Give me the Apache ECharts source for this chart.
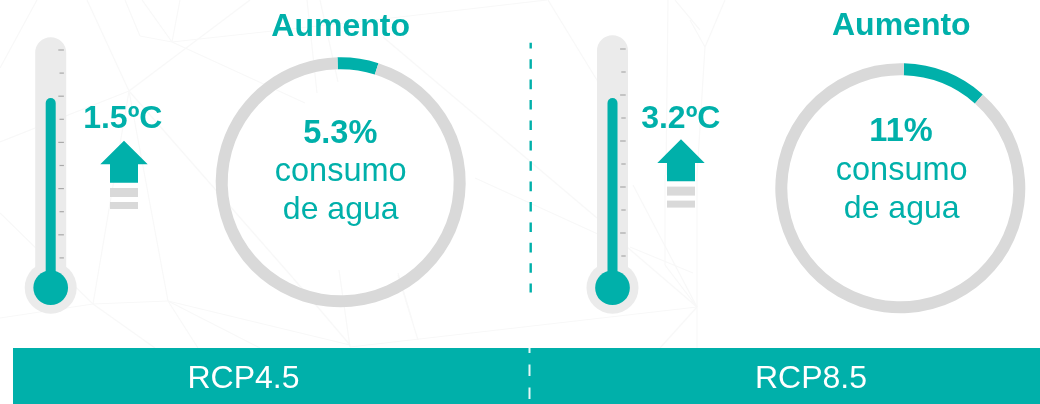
<!DOCTYPE html>
<html lang="es">
<head>
<meta charset="utf-8">
<title>Aumento del consumo de agua por escenario RCP</title>
<style>
  html, body { margin: 0; padding: 0; background: #fff; }
  #chart { width: 1040px; height: 404px; }
</style>
<script src="https://cdn.jsdelivr.net/npm/echarts@6/dist/echarts.min.js"></script>
</head>
<body>
<div id="chart"></div>
<script>
// Scenario data
const scenarios = ['RCP4.5', 'RCP8.5'];
const warming = ['1.5ºC', '3.2ºC'];
const waterUse = [5.3, 11];
const waterUseLabels = ['5.3%', '11%'];

// Thermometer icons, on a scale whose ticks run from 1 to 10
const tickLevels = [1, 2, 3, 4, 5, 6, 7, 8, 9, 10];
const mercuryLevel = [7.92, 7.87];
const tubeLevel = [10.55, 10.6];
const bulbLevel = [-0.29, -0.38];

const TEAL = '#00b0aa';
const RING = '#d9d9d9';
const TUBE = '#ebebeb';
const FONT = '"Liberation Sans", Arial, sans-serif';

// Frame of each thermometer: centre x, y of level 0, pixels per level
const thermoFrames = [
  { cx: 50.7, y0: 281, unit: 23.1 },
  { cx: 612.5, y0: 279, unit: 23 }
];
// Frame of each ring
const ringFrames = [
  { cx: 340.7, cy: 182.3, start: 91.5 },
  { cx: 900.3, cy: 188.3, start: 88.3 }
];

// Faint polygonal mesh behind the page
const mesh = [
  [37,0,0,68],[0,142,129,91],[87,0,129,91],[129,91,250,0],[172,42,140,36],[140,36,125,0],
  [172,42,180,0],[142,0,172,42],[172,42,400,17],[400,17,547,0],[172,42,305,103],
  [129,91,293,278],[293,278,350,345],[129,91,168,301],[129,91,93,304],[93,304,168,301],
  [0,318,93,304],[0,213,93,304],[93,304,155,348],[168,301,198,348],[168,301,260,348],
  [168,301,350,345],[307,0,317,93],[320,0,338,82],[548,0,603,90],[383,37,597,218],
  [475,178,600,235],[630,247,693,273],[627,247,697,307],[697,307,350,347],[633,185,697,307],
  [697,307,660,348],[665,175,665,265],[665,265,697,307],[668,0,666,175],[675,0,700,30],
  [690,20,705,47],[725,0,705,47],[705,47,697,175],[697,175,697,348],[398,275,418,340],
  [339,270,350,347],[398,273,412,320]
];

// Arrow above two grey bars: tip x, tip y
const arrows = [
  { x: 124, y: 140.7 },
  { x: 681, y: 139.3 }
];

function text(x, baseline, str, size, weight, color) {
  return {
    type: 'text', z: 10, silent: true, x: x, y: baseline - size * 0.29,
    style: {
      text: str, fill: color || TEAL, align: 'center', verticalAlign: 'middle',
      font: (weight || 'normal') + ' ' + size + 'px ' + FONT
    }
  };
}

const graphic = [];

mesh.forEach(function (m) {
  graphic.push({
    type: 'line', z: -5, silent: true,
    shape: { x1: m[0], y1: m[1], x2: m[2], y2: m[3] },
    style: { stroke: '#f8f8f8', lineWidth: 1.2 }
  });
});

// Bottom band with its dashed divider, and the divider above it
graphic.push({
  type: 'rect', z: 1, silent: true,
  shape: { x: 13, y: 348, width: 1027, height: 56 },
  style: { fill: TEAL }
});
graphic.push({
  type: 'line', z: 2, silent: true,
  shape: { x1: 529.5, y1: 348, x2: 529.5, y2: 404 },
  style: { stroke: '#e4f6f5', lineWidth: 2, lineDash: [11.5, 11.5], lineDashOffset: 6.5 }
});
graphic.push({
  type: 'line', z: 2, silent: true,
  shape: { x1: 530.7, y1: 42.7, x2: 530.7, y2: 292.4 },
  style: { stroke: TEAL, lineWidth: 2.4, lineDash: [9.6, 10.8], lineDashOffset: 3.9 }
});

arrows.forEach(function (a) {
  graphic.push({
    type: 'polygon', z: 3, silent: true,
    shape: { points: [
      [a.x, a.y], [a.x + 23.7, a.y + 23.6], [a.x + 14, a.y + 23.6], [a.x + 14, a.y + 42],
      [a.x - 14, a.y + 42], [a.x - 14, a.y + 23.6], [a.x - 23.7, a.y + 23.6]
    ] },
    style: { fill: TEAL }
  });
  graphic.push({
    type: 'rect', z: 3, silent: true,
    shape: { x: a.x - 14, y: a.y + 47.3, width: 28, height: 9 },
    style: { fill: RING }
  });
  graphic.push({
    type: 'rect', z: 3, silent: true,
    shape: { x: a.x - 14, y: a.y + 61.3, width: 28, height: 7 },
    style: { fill: RING }
  });
});

graphic.push(
  text(340.7, 36, 'Aumento', 32, 'bold'),
  text(901.3, 35, 'Aumento', 32, 'bold'),
  text(122.8, 128.7, warming[0], 32, 'bold'),
  text(680.8, 128.7, warming[1], 32, 'bold'),
  text(340.3, 143, waterUseLabels[0], 32.5, 'bold'),
  text(901, 141.7, waterUseLabels[1], 32.5, 'bold'),
  text(340.7, 181, 'consumo', 32.5),
  text(901.7, 180, 'consumo', 32.5),
  text(340.7, 219, 'de agua', 32),
  text(901.7, 218, 'de agua', 32),
  text(243.5, 388, scenarios[0], 32, 'normal', '#fff'),
  text(811, 388, scenarios[1], 32, 'normal', '#fff')
);

const grids = [], xAxes = [], yAxes = [], series = [];

scenarios.forEach(function (name, i) {
  const f = thermoFrames[i];
  grids.push({ left: f.cx - 40, width: 80, top: f.y0 - 12 * f.unit, height: 14 * f.unit });
  // Tube and mercury sit on separate category axes so their bars share one centre line
  const tubeX = xAxes.length;
  xAxes.push({ type: 'category', gridIndex: i, data: [name], show: false });
  const mercuryX = xAxes.length;
  xAxes.push({ type: 'category', gridIndex: i, data: [name], show: false });
  yAxes.push({ type: 'value', gridIndex: i, min: -2, max: 12, interval: 2, show: false });

  const tubeAxes = { xAxisIndex: tubeX, yAxisIndex: i, silent: true };
  const mercuryAxes = { xAxisIndex: mercuryX, yAxisIndex: i, silent: true };
  series.push(Object.assign({
    type: 'bar', z: 2, barWidth: 31, data: [tubeLevel[i]],
    itemStyle: { color: TUBE, borderRadius: [15.5, 15.5, 0, 0] }
  }, tubeAxes));
  series.push(Object.assign({
    type: 'scatter', z: 2, symbol: 'circle', symbolSize: 52, data: [[0, bulbLevel[i]]],
    itemStyle: { color: TUBE, opacity: 1 }
  }, tubeAxes));
  series.push(Object.assign({
    type: 'bar', z: 3, barWidth: 10, data: [mercuryLevel[i]],
    itemStyle: { color: TEAL, borderRadius: [5, 5, 0, 0] }
  }, mercuryAxes));
  series.push(Object.assign({
    type: 'scatter', z: 4, symbol: 'circle', symbolSize: 34.7, data: [[0, bulbLevel[i]]],
    itemStyle: { color: TEAL, opacity: 1 }
  }, mercuryAxes));
  // Scale ticks on the right side of the tube: even levels run slightly longer
  series.push(Object.assign({
    type: 'custom', z: 3, data: tickLevels.map(function (l) { return [0, l]; }),
    encode: { x: 0, y: 1 },
    renderItem: function (params, api) {
      const p = api.coord([api.value(0), api.value(1)]);
      const long = api.value(1) % 2 === 0;
      return {
        type: 'line',
        shape: { x1: p[0] + (long ? 7.6 : 8.8), y1: p[1], x2: p[0] + 13.2, y2: p[1] },
        style: { stroke: '#a9a9a9', lineWidth: 1.2 }
      };
    }
  }, tubeAxes));

  const r = ringFrames[i];
  series.push({
    type: 'pie', silent: true, z: 2, center: [r.cx, r.cy], radius: [113, 125],
    startAngle: r.start, clockwise: true, avoidLabelOverlap: false,
    label: { show: false }, labelLine: { show: false },
    data: [
      { value: waterUse[i], itemStyle: { color: TEAL } },
      { value: 100 - waterUse[i], itemStyle: { color: RING } }
    ]
  });
});

const chart = echarts.init(document.getElementById('chart'), null, { renderer: 'canvas' });
chart.setOption({
  animation: false,
  backgroundColor: '#ffffff',
  tooltip: { show: false },
  legend: { show: false },
  grid: grids,
  xAxis: xAxes,
  yAxis: yAxes,
  series: series,
  graphic: graphic
});
</script>
</body>
</html>
